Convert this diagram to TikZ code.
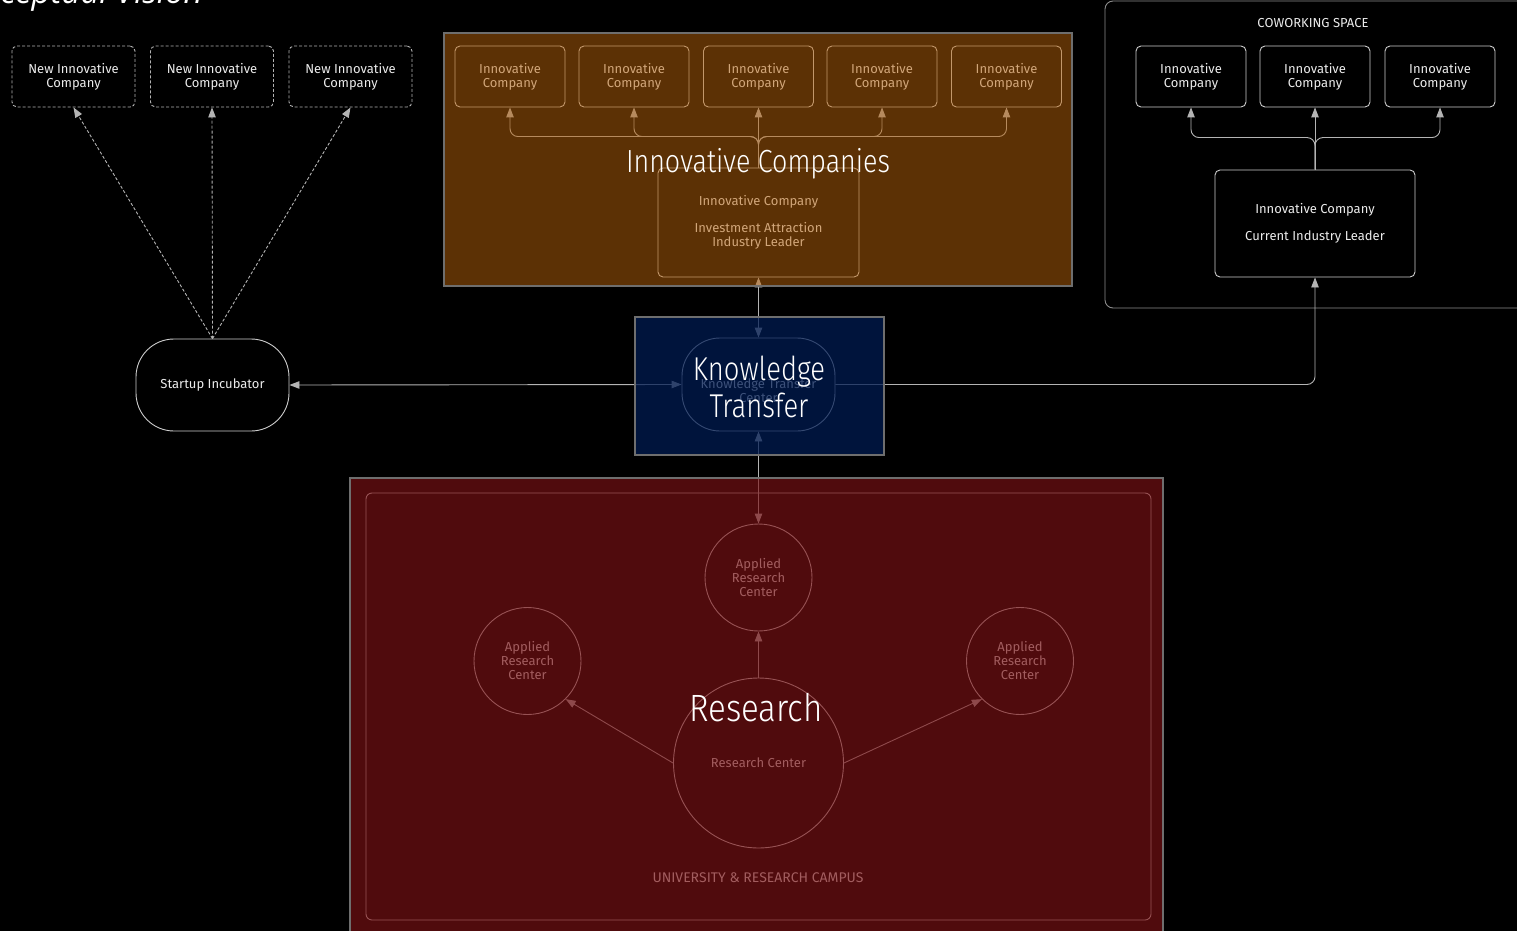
\documentclass[tikz,border=0pt]{standalone}
\usepackage{fontspec}
\setmainfont{Fira Sans}
\newfontfamily\thinfont{Fira Sans Light}
\newfontfamily\headfont{Open Sans}
\usetikzlibrary{arrows.meta,calc}

\definecolor{lineC}{RGB}{180,180,180}
\definecolor{boxC}{RGB}{205,205,205}
\definecolor{txtC}{RGB}{235,235,235}
\definecolor{frameC}{RGB}{110,110,110}
\definecolor{cwC}{RGB}{140,140,140}
\definecolor{brownO}{RGB}{184,98,10}
\definecolor{blueO}{RGB}{0,27,82}
\definecolor{redO}{RGB}{123,17,20}

\tikzset{
  lbl/.style={font=\fontsize{13}{14}\selectfont, text=txtC, align=center},
  cbox/.style={lbl, draw=boxC, line width=0.9pt, rounded corners=5pt,
    minimum width=110pt, minimum height=61pt, inner sep=0pt},
  dbox/.style={cbox, draw=lineC, dash pattern=on 3pt off 2pt, minimum width=123pt},
  pill/.style={lbl, draw=boxC, line width=0.9pt, rounded corners=38pt,
    minimum width=153pt, minimum height=92pt, inner sep=0pt},
  circ/.style={lbl, circle, draw=boxC, line width=0.9pt, inner sep=0pt, minimum size=107pt},
  conn/.style={draw=lineC, line width=0.9pt},
  dconn/.style={conn, dash pattern=on 3pt off 2pt, ->},
  ovl/.style={rectangle, draw=frameC, line width=1.6pt, inner sep=0pt},
  bigttl/.style={text=white, inner sep=0pt},
}

\begin{document}
\begin{tikzpicture}[x=1pt, y=-1pt, >={Triangle[length=10pt,width=7.5pt]}]
\useasboundingbox (0,0) rectangle (1517,931);
\clip (0,0) rectangle (1517,931);
\fill[black] (0,0) rectangle (1517,931);

% cut-off title
\node[anchor=base east, inner sep=0pt, text=white,
  font=\headfont\itshape\fontsize{33}{36}\selectfont] (title) at (203,4) {Conceptual Vision};

% ---------- new companies and incubator
\node[dbox] (nc1) at (73.5,76.5) {New Innovative\\Company};
\node[dbox] (nc2) at (212,76.5) {New Innovative\\Company};
\node[dbox] (nc3) at (350.5,76.5) {New Innovative\\Company};
\node[pill, fill=black] (inc) at (212.5,385) {Startup Incubator};
\draw[dconn] (inc.north) -- (nc1.south);
\draw[dconn] (inc.north) -- (nc2.south);
\draw[dconn] (inc.north) -- (nc3.south);

% ---------- innovative companies (content under the brown veil)
\node[cbox] (ic1) at (510,76.5) {Innovative\\Company};
\node[cbox] (ic2) at (634,76.5) {Innovative\\Company};
\node[cbox] (ic3) at (758.5,76.5) {Innovative\\Company};
\node[cbox] (ic4) at (882,76.5) {Innovative\\Company};
\node[cbox] (ic5) at (1006.5,76.5) {Innovative\\Company};
\node[cbox, minimum width=201pt, minimum height=109pt] (icl) at (758.5,222.5)
  {Innovative Company\\[13pt]Investment Attraction\\Industry Leader};
\path (icl.north) ++(0,-31) coordinate (icfork);
\draw[conn, ->, rounded corners=8pt] (icl.north) -- (icfork) -| (ic1.south);
\draw[conn, ->, rounded corners=8pt] (icl.north) -- (icfork) -| (ic2.south);
\draw[conn, ->] (icl.north) -- (ic3.south);
\draw[conn, ->, rounded corners=8pt] (icl.north) -- (icfork) -| (ic4.south);
\draw[conn, ->, rounded corners=8pt] (icl.north) -- (icfork) -| (ic5.south);

% ---------- coworking space
\node[draw=cwC, line width=0.9pt, rounded corners=8pt, inner sep=0pt,
  minimum width=430pt, minimum height=307pt] (cwbox) at (1320,154.5) {};
\node[lbl] (cwlbl) at (1313,23) {COWORKING SPACE};
\node[cbox] (cw1) at (1191,76.5) {Innovative\\Company};
\node[cbox] (cw2) at (1315,76.5) {Innovative\\Company};
\node[cbox] (cw3) at (1440,76.5) {Innovative\\Company};
\node[cbox, minimum width=200pt, minimum height=107pt] (cwl) at (1315,223.5)
  {Innovative Company\\[13pt]Current Industry Leader};
\path (cwl.north) ++(0,-32) coordinate (cwfork);
\draw[conn, ->, rounded corners=8pt] (cwl.north) -- (cwfork) -| (cw1.south);
\draw[conn, ->] (cwl.north) -- (cw2.south);
\draw[conn, ->, rounded corners=8pt] (cwl.north) -- (cwfork) -| (cw3.south);

% ---------- knowledge transfer
\node[pill, minimum height=93pt] (kt) at (758.5,384.5)
  {\mbox{}\\[8pt]Knowledge Transfer\\Center};

% ---------- research campus
\node[draw=boxC, line width=0.9pt, rounded corners=6pt, inner sep=0pt,
  minimum width=785pt, minimum height=427pt] (campus) at (758.5,706.5) {};
\node[lbl, font=\fontsize{14}{16}\selectfont] (campuslbl) at (758,878) {UNIVERSITY \& RESEARCH CAMPUS};
\node[circ] (ar1) at (758.5,577.5) {Applied\\Research\\Center};
\node[circ] (ar2) at (527.5,661) {Applied\\Research\\Center};
\node[circ] (ar3) at (1020,661) {Applied\\Research\\Center};
\node[circ, minimum size=170pt] (rc) at (758.5,763) {Research Center};
\draw[conn, ->] (rc.north) -- (ar1.south);
\draw[conn, ->] (rc.west) -- (ar2.-45);
\draw[conn, ->] (rc.east) -- (ar3.-135);

% ---------- connectors of the knowledge transfer centre
\draw[conn, <->] (kt.west) -- (inc.east);
\draw[conn, <->] (kt.north) -- (icl.south);
\draw[conn, <->] (kt.south) -- (ar1.north);
\draw[conn, ->, rounded corners=8pt] (kt.east) -| (cwl.south);

% ---------- coloured veils
\node[ovl, fill=brownO, fill opacity=0.5, minimum width=628pt, minimum height=253pt] (icbox) at (758,159.5) {};
\node[ovl, fill=blueO, fill opacity=0.74, minimum width=249pt, minimum height=138pt] (ktbox) at (759.5,386) {};
\node[ovl, fill=redO, fill opacity=0.65, minimum width=813pt, minimum height=470pt] (rbox) at (756.5,713) {};

% ---------- big titles
\node[bigttl, anchor=base, font=\thinfont\fontsize{32}{36}\selectfont] (tic) at (758,172)
  {\scalebox{0.84}[1]{Innovative Companies}};
\node[bigttl, align=center, font=\thinfont\fontsize{33}{37}\selectfont] (tkt) at (759,387)
  {\scalebox{0.83}[1]{Knowledge}\\\scalebox{0.83}[1]{Transfer}};
\node[bigttl, anchor=base, font=\thinfont\fontsize{38}{42}\selectfont] (trs) at (756,721)
  {\scalebox{0.87}[1]{Research}};
\end{tikzpicture}
\end{document}
